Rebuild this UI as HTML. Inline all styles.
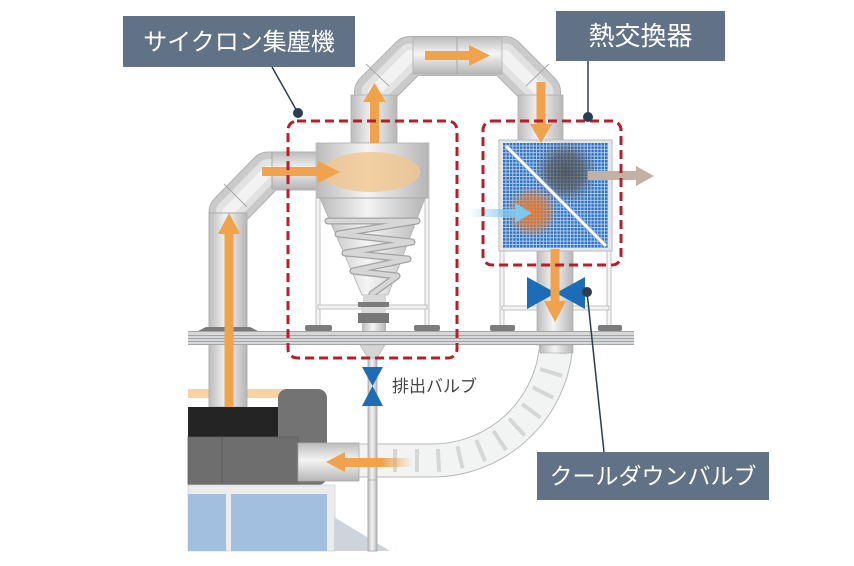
<!DOCTYPE html>
<html><head><meta charset="utf-8">
<style>
html,body{margin:0;padding:0;background:#fff;}
svg{display:block;}
text{font-family:"Liberation Sans","Noto Sans CJK JP",sans-serif;}
</style></head><body>
<svg width="854" height="566" viewBox="0 0 854 566" xmlns="http://www.w3.org/2000/svg">
<defs>
 <linearGradient id="gv" x1="0" y1="0" x2="1" y2="0">
  <stop offset="0" stop-color="#bcbcbc"/><stop offset="0.45" stop-color="#f4f4f4"/><stop offset="1" stop-color="#b6b6b6"/>
 </linearGradient>
 <linearGradient id="gh" x1="0" y1="0" x2="0" y2="1">
  <stop offset="0" stop-color="#bcbcbc"/><stop offset="0.45" stop-color="#f4f4f4"/><stop offset="1" stop-color="#b6b6b6"/>
 </linearGradient>
 <pattern id="grid" width="3.4" height="3.4" patternUnits="userSpaceOnUse" x="503" y="143">
  <rect width="3.4" height="3.4" fill="#b7d1ee"/>
  <rect width="2.5" height="2.5" fill="#2e70c1"/>
 </pattern>
 <radialGradient id="smoke">
  <stop offset="0" stop-color="#4e4e4e" stop-opacity="0.85"/>
  <stop offset="0.55" stop-color="#555" stop-opacity="0.65"/>
  <stop offset="1" stop-color="#666" stop-opacity="0"/>
 </radialGradient>
 <radialGradient id="heat">
  <stop offset="0" stop-color="#e77b2e" stop-opacity="0.95"/>
  <stop offset="0.55" stop-color="#e0803a" stop-opacity="0.7"/>
  <stop offset="1" stop-color="#e08a4a" stop-opacity="0"/>
 </radialGradient>
 <linearGradient id="blueFade" x1="0" y1="0" x2="1" y2="0">
  <stop offset="0" stop-color="#7fc8ef" stop-opacity="0"/>
  <stop offset="1" stop-color="#7fc8ef" stop-opacity="1"/>
 </linearGradient>
 <linearGradient id="orFade" x1="0" y1="0" x2="1" y2="0">
  <stop offset="0" stop-color="#f0a24c" stop-opacity="1"/>
  <stop offset="0.55" stop-color="#f0a24c" stop-opacity="1"/>
  <stop offset="1" stop-color="#f0a24c" stop-opacity="0"/>
 </linearGradient>
</defs>

<!-- tan stripe -->
<rect x="188" y="389" width="102" height="9" fill="#f6d3a6"/>

<!-- flex duct -->
<path d="M573 336 A141 141 0 0 1 432 477 L355 477 L355 444 L432 444 A108 108 0 0 0 540 336 Z" fill="#f2f3f3" stroke="#b9b9b9" stroke-width="1"/>
<g stroke="#d6d6d6" stroke-width="4">
 <line x1="395" y1="449" x2="395" y2="472"/>
 <line x1="417" y1="449" x2="417" y2="472"/>
 <g transform="translate(432,336)">
  <line x1="5.9" y1="112.8" x2="7.1" y2="135.8"/>
  <line x1="25.4" y1="110.1" x2="30.6" y2="132.5"/>
  <line x1="44.2" y1="104.0" x2="53.1" y2="125.2"/>
  <line x1="61.5" y1="94.8" x2="74.1" y2="114.1"/>
  <line x1="77.1" y1="82.6" x2="92.7" y2="99.5"/>
  <line x1="90.2" y1="68.0" x2="108.6" y2="81.8"/>
  <line x1="100.7" y1="51.3" x2="121.2" y2="61.7"/>
  <line x1="108.1" y1="33.0" x2="130.1" y2="39.8"/>
  <line x1="112.1" y1="13.8" x2="135.0" y2="16.6"/>
 </g>
</g>

<!-- left pipe elbow -->
<g fill="none" stroke-linejoin="round">
 <path d="M228 407 L228 212 L268 171 L320 171" stroke="#b2b2b2" stroke-width="39"/>
 <path d="M228 407 L228 212 L268 171 L320 171" stroke="#cacaca" stroke-width="37"/>
 <path d="M228 407 L228 212 L268 171 L320 171" stroke="#e2e2e2" stroke-width="24"/>
 <path d="M228 407 L228 212 L268 171 L320 171" stroke="#f2f2f2" stroke-width="11"/>
</g>
<rect x="209" y="213" width="38" height="194" fill="url(#gv)" stroke="#b0b0b0" stroke-width="0.8"/>
<rect x="272" y="152" width="46" height="37" fill="url(#gh)" stroke="#b0b0b0" stroke-width="0.8"/>
<g stroke="#a8a8a8" stroke-width="1">
 <line x1="209" y1="213" x2="247" y2="213"/>
 <line x1="224" y1="184" x2="247" y2="207"/>
 <line x1="272" y1="152" x2="272" y2="189"/>
</g>

<!-- bridge pipe -->
<g fill="none" stroke-linejoin="round">
 <path d="M374 143 L374 92 L410 56 L505 56 L541 92 L541 143" stroke="#b2b2b2" stroke-width="40"/>
 <path d="M374 143 L374 92 L410 56 L505 56 L541 92 L541 143" stroke="#cacaca" stroke-width="38"/>
 <path d="M374 143 L374 92 L410 56 L505 56 L541 92 L541 143" stroke="#e2e2e2" stroke-width="25"/>
 <path d="M374 143 L374 92 L410 56 L505 56 L541 92 L541 143" stroke="#f2f2f2" stroke-width="12"/>
</g>
<rect x="413" y="37" width="89" height="37" fill="url(#gh)" stroke="#b0b0b0" stroke-width="0.8"/>
<rect x="351" y="95" width="46" height="48" fill="url(#gv)" stroke="#b0b0b0" stroke-width="0.8"/>
<rect x="518" y="95" width="45" height="48" fill="url(#gv)" stroke="#b0b0b0" stroke-width="0.8"/>
<g stroke="#a8a8a8" stroke-width="1">
 <line x1="366" y1="64" x2="389" y2="86"/>
 <line x1="549" y1="64" x2="526" y2="86"/>
 <line x1="457" y1="37" x2="457" y2="74"/>
</g>

<!-- cyclone frame -->
<g fill="#f4f4f4" stroke="#b5b5b5" stroke-width="0.8">
 <rect x="316" y="143" width="4" height="185"/>
 <rect x="425" y="143" width="4" height="185"/>
 <rect x="318" y="305" width="109" height="4"/>
</g>
<!-- cyclone body -->
<rect x="317" y="143" width="111" height="55" fill="url(#gv)" stroke="#b0b0b0" stroke-width="0.8"/>
<ellipse cx="371" cy="172" rx="49" ry="20" fill="#f3c790" opacity="0.8"/>
<polygon points="320,198 425,198 388,295 362,295" fill="url(#gv)" stroke="#b0b0b0" stroke-width="0.8"/>
<line x1="317" y1="198" x2="428" y2="198" stroke="#a9a9a9" stroke-width="1"/>
<g fill="none" stroke-linecap="round" stroke-linejoin="round">
 <path d="M328 221 L417 221 L338 234 L412 242 L345 253 L408 259 L353 271 L397 276 L372 294" stroke="#a2a2a2" stroke-width="7"/>
 <path d="M328 221 L417 221 L338 234 L412 242 L345 253 L408 259 L353 271 L397 276 L372 294" stroke="#d6d6d6" stroke-width="4.5"/>
</g>
<rect x="363" y="295" width="23" height="7" fill="#d8d8d8"/>
<rect x="358" y="302" width="31" height="5" fill="#7b7b7b"/>
<rect x="361" y="307" width="25" height="6" fill="#dadada"/>
<rect x="358" y="313" width="31" height="10" fill="#777"/>
<rect x="362" y="323" width="24" height="8" fill="url(#gv)"/>

<!-- HX frame & legs -->
<g fill="#f4f4f4" stroke="#b5b5b5" stroke-width="0.8">
 <rect x="500" y="250" width="4" height="77"/>
 <rect x="607" y="250" width="4" height="77"/>
 <rect x="502" y="306" width="107" height="4"/>
</g>
<rect x="537" y="248" width="36" height="97" fill="url(#gv)" stroke="#b0b0b0" stroke-width="0.8"/>
<rect x="499" y="140" width="113" height="111" fill="#e6e6e6" stroke="#b8b8b8" stroke-width="1"/>
<rect x="503" y="143" width="105" height="105" fill="url(#grid)"/>
<circle cx="566" cy="172" r="32" fill="url(#smoke)"/>
<circle cx="532" cy="212" r="26" fill="url(#heat)"/>
<line x1="506" y1="146" x2="606" y2="246" stroke="#8ea7c4" stroke-width="4.5"/>
<line x1="506" y1="146" x2="606" y2="246" stroke="#fff" stroke-width="2.8"/>

<!-- beam -->
<rect x="188" y="331" width="446" height="14" fill="#d7d8d9"/>
<g stroke="#a5a5a5" stroke-width="1">
 <line x1="188" y1="331.5" x2="634" y2="331.5"/>
 <line x1="188" y1="335.5" x2="634" y2="335.5"/>
 <line x1="188" y1="338.5" x2="634" y2="338.5"/>
 <line x1="188" y1="341.5" x2="634" y2="341.5"/>
 <line x1="188" y1="344.5" x2="634" y2="344.5"/>
</g>
<polygon points="198,331 258,331 250,327 206,327" fill="#7a7a7a"/>
<g fill="#7c7c7c">
 <rect x="305" y="325" width="27" height="6" rx="2"/>
 <rect x="414" y="325" width="26" height="6" rx="2"/>
 <rect x="490" y="325" width="25" height="6" rx="2"/>
 <rect x="598" y="325" width="24" height="6" rx="2"/>
</g>
<rect x="540" y="345" width="33" height="8" fill="url(#gv)" stroke="#aaa" stroke-width="0.6"/>

<!-- discharge funnel & pipe -->
<polygon points="360,345 385,345 377,358 368,358" fill="#d5d5d5" stroke="#b0b0b0" stroke-width="0.6"/>
<rect x="368" y="358" width="9" height="193" fill="url(#gv)" stroke="#a9a9a9" stroke-width="0.8"/>

<!-- machine -->
<rect x="278" y="389" width="49" height="96" rx="9" fill="#737373"/>
<rect x="188" y="407" width="90" height="30" fill="#242424"/>
<rect x="188" y="437" width="110" height="48" fill="#6e6e6e" stroke="#5e5e5e" stroke-width="0.8"/>
<line x1="222" y1="437" x2="222" y2="485" stroke="#5a5a5a" stroke-width="1"/>
<rect x="188" y="485" width="147" height="66" fill="#ececed" stroke="#d2d2d2" stroke-width="0.8"/>
<rect x="188" y="494" width="38" height="57" fill="#a3bfe0"/>
<rect x="231" y="494" width="96" height="57" fill="#a3bfe0"/>
<polygon points="334,517 390,551 334,551" fill="#cdd4dc"/>
<rect x="368" y="480" width="9" height="71" fill="url(#gv)" stroke="#a9a9a9" stroke-width="0.8"/>
<rect x="298" y="443" width="61" height="38" fill="url(#gh)" stroke="#a9a9a9" stroke-width="0.8"/>

<!-- valves -->
<g fill="#1c6cb7">
 <polygon points="527,277 527,309 556,293"/>
 <polygon points="585,277 585,309 556,293"/>
 <polygon points="362,367 383,367 372.5,386"/>
 <polygon points="362,406 383,406 372.5,386"/>
</g>

<!-- arrows -->
<g fill="#f0a24c">
 <rect x="224.5" y="232" width="9" height="175"/>
 <polygon points="218,234 240,234 229,213"/>
 <rect x="262" y="167" width="58" height="9"/>
 <polygon points="318,161 318,183 340,172"/>
 <rect x="370" y="100" width="9" height="43"/>
 <polygon points="363,102 386,102 374.5,83"/>
 <rect x="425" y="51" width="46" height="9"/>
 <polygon points="469,45 469,66 490,55.5"/>
 <rect x="536.5" y="82" width="9" height="43"/>
 <polygon points="530,124 552,124 541,143"/>
 <rect x="550.5" y="249" width="9" height="54"/>
 <polygon points="544,301 566,301 555,322"/>
 <polygon points="345,452 345,472 326,462"/>
</g>
<rect x="344" y="458" width="68" height="9" fill="url(#orFade)"/>
<rect x="468" y="209" width="50" height="8" fill="url(#blueFade)"/>
<polygon points="515,203 515,223 532,213" fill="#7fc8ef"/>
<rect x="588" y="171" width="49" height="9" fill="#c4b1a1"/>
<polygon points="636,166 636,186 654,176" fill="#c4b1a1"/>

<!-- dashed boxes -->
<g fill="none" stroke="#b3202c" stroke-width="3" stroke-dasharray="9 5">
 <rect x="288" y="121" width="169" height="237" rx="9"/>
 <rect x="483" y="121" width="138" height="144" rx="9"/>
</g>

<!-- leaders -->
<g stroke="#2b3d52" stroke-width="1.5">
 <line x1="272" y1="67" x2="298" y2="113"/>
 <line x1="588" y1="61" x2="588" y2="117"/>
 <line x1="587" y1="292" x2="604" y2="452"/>
</g>
<g fill="#2b3d52">
 <circle cx="298" cy="113" r="5"/>
 <circle cx="588" cy="117" r="5"/>
 <circle cx="587" cy="292" r="5"/>
</g>

<!-- labels -->
<rect x="123" y="16" width="232" height="51" fill="#617286"/>
<text x="239" y="50" font-size="24" fill="#fff" text-anchor="middle">サイクロン集塵機</text>
<rect x="556" y="11" width="169" height="50" fill="#617286"/>
<text x="640.5" y="45" font-size="26" fill="#fff" text-anchor="middle">熱交換器</text>
<rect x="537" y="452" width="232" height="48" fill="#617286"/>
<text x="653" y="484" font-size="23" fill="#fff" text-anchor="middle">クールダウンバルブ</text>
<text x="392" y="392" font-size="17" fill="#454545">排出バルブ</text>
</svg>
</body></html>
